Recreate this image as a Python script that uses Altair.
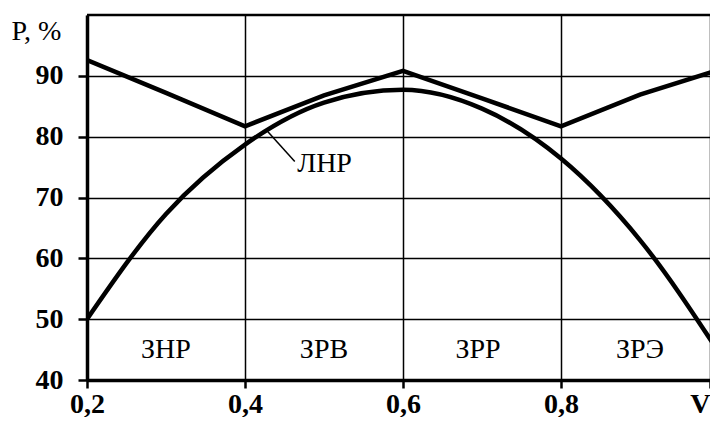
import altair as alt
import pandas as pd

V = [0.2, 0.3, 0.4, 0.5, 0.6, 0.7, 0.8, 0.9, 1.0]
upper = [92.6, 87.2, 81.7, 86.8, 90.8, 86.3, 81.7, 86.9, 91.0]
lower = [50.0, 67.3, 78.7, 85.6, 87.7, 84.6, 76.4, 63.0, 44.5]

zone_names = ["ЗНР", "ЗРВ", "ЗРР", "ЗРЭ"]
zone_x = [0.3, 0.5, 0.695, 0.9]
zone_y = [45.0, 45.0, 45.0, 45.0]

curve_label = "ЛНР"
leader_x = [0.429, 0.463]
leader_y = [80.8, 75.9]
label_x = [0.466]
label_y = [75.5]

X_MAX = 0.9886
x_ticks = [0.2, 0.4, 0.6, 0.8, X_MAX]
y_ticks = [40, 50, 60, 70, 80, 90]
top_value = [100]

FONT = "Liberation Serif"

df_up = pd.DataFrame({"V": V, "P": upper})
df_lo = pd.DataFrame({"V": V, "P": lower})
df_z = pd.DataFrame({"V": zone_x, "P": zone_y, "t": zone_names})
df_lead = pd.DataFrame({"V": leader_x, "P": leader_y})
df_lab = pd.DataFrame({"V": label_x, "P": label_y, "t": [curve_label]})
df_top = pd.DataFrame({"P": top_value})

xs = alt.Scale(domain=[0.2, X_MAX], nice=False, zero=False)
ys = alt.Scale(domain=[40, 100], nice=False, zero=False)

xaxis = alt.Axis(
    values=x_ticks, title=None, grid=True, gridColor="black", gridWidth=1.5, gridOpacity=1,
    domainColor="black", domainWidth=3.5, tickColor="black", tickWidth=2.5, tickSize=8,
    labelFont=FONT, labelFontSize=28, labelFontWeight="bold", labelColor="black",
    labelPadding=24, labelFlush=False, labelOverlap=False, labelBaseline="alphabetic",
    labelAlign={"condition": {"test": "datum.value >= 0.95", "value": "right"}, "value": "center"},
    labelExpr="datum.value >= 0.95 ? 'V' : replace(format(datum.value, '.1f'), '.', ',')",
)
yaxis = alt.Axis(
    values=y_ticks, title="P, %", grid=True, gridColor="black", gridWidth=1.5, gridOpacity=1,
    domainColor="black", domainWidth=3.5, tickColor="black", tickWidth=2.5, tickSize=9,
    labelFont=FONT, labelFontSize=28, labelFontWeight="bold", labelColor="black",
    labelPadding=15, labelFlush=False, labelOverlap=False,
    titleAngle=0, titleFont=FONT, titleFontSize=28, titleFontWeight="normal", titleColor="black",
    titleAlign="left", titleBaseline="middle", titleX=-76, titleY=16,
)

base_up = alt.Chart(df_up).mark_line(color="black", strokeWidth=4.5, clip=True).encode(
    x=alt.X("V:Q", scale=xs, axis=xaxis), y=alt.Y("P:Q", scale=ys, axis=yaxis)
)
base_lo = alt.Chart(df_lo).mark_line(color="black", strokeWidth=4.5, interpolate="monotone", clip=True).encode(
    x=alt.X("V:Q", scale=xs), y=alt.Y("P:Q", scale=ys)
)
top = alt.Chart(df_top).mark_rule(color="black", strokeWidth=2.5).encode(
    y=alt.Y("P:Q", scale=ys)
)
zones = alt.Chart(df_z).mark_text(font=FONT, fontSize=28, color="black").encode(
    x=alt.X("V:Q", scale=xs), y=alt.Y("P:Q", scale=ys), text="t:N"
)
lead = alt.Chart(df_lead).mark_line(color="black", strokeWidth=1.5).encode(
    x=alt.X("V:Q", scale=xs), y=alt.Y("P:Q", scale=ys)
)
lab = alt.Chart(df_lab).mark_text(font=FONT, fontSize=28, color="black", align="left").encode(
    x=alt.X("V:Q", scale=xs), y=alt.Y("P:Q", scale=ys), text="t:N"
)

chart = alt.layer(top, base_up, base_lo, lead, lab, zones).properties(
    width=623, height=365,
    autosize=alt.AutoSizeParams(type="none"),
    padding={"left": 79, "top": 7, "right": 0, "bottom": 37},
    background="white",
).configure(font=FONT).configure_view(stroke=None)

chart.save("out.html", embed_options={"renderer": "svg", "actions": False})
